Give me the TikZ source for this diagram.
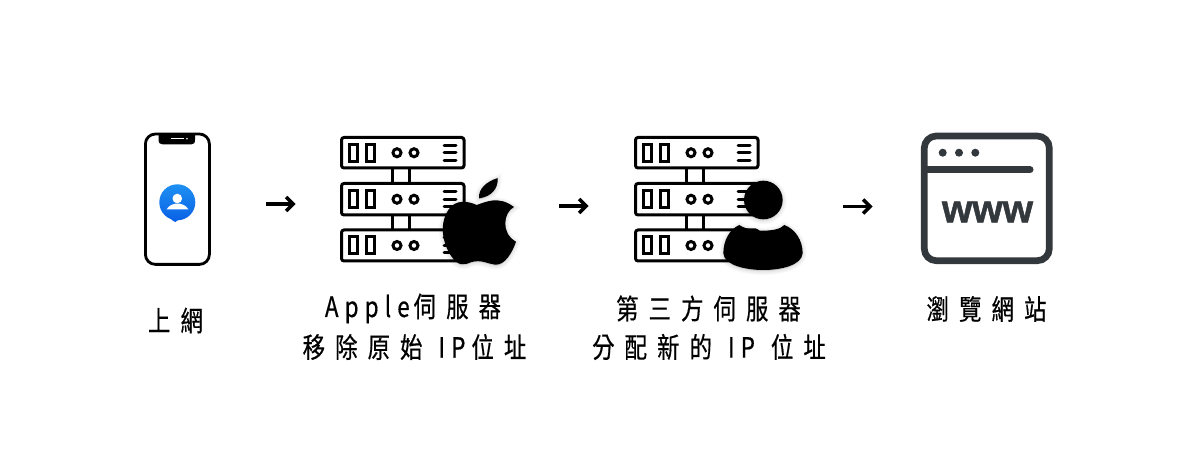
\documentclass[tikz,border=0pt]{standalone}
\usepackage{fontspec}
\usetikzlibrary{arrows.meta}
\newfontfamily\cjklabel[LetterSpace=36,FakeStretch=0.8,FakeBold=0.5]{Noto Sans CJK TC}
\newfontfamily\latlabel[LetterSpace=22,FakeStretch=0.8,FakeBold=0.5]{Noto Sans CJK TC}
\newfontfamily\wwwfont[BoldFeatures={FakeBold=1.2}]{Liberation Sans}
\definecolor{browsergrey}{HTML}{33383C}
\definecolor{blueA}{HTML}{1E90F2}
\definecolor{blueB}{HTML}{0A62E6}
\tikzset{
  flowarrow/.style={line width=3.2pt,-{Straight Barb[length=7pt,width=14pt,line width=3.5pt]}},
  labeltext/.style={font=\cjklabel\fontsize{28}{39}\selectfont,align=center,inner sep=0pt,text=black},
  iconanchor/.style={inner sep=0pt,minimum size=0pt},
  rack/.style={draw=black,line width=3pt,rounded corners=2.5pt},
  rackline/.style={draw=black,line width=3pt},
  serverpic/.pic={
    \foreach \ya/\yb in {137.5/168,183.5/215,230/261}{
      \draw[rack] (341.5,\ya) rectangle (464,\yb);
      \pgfmathsetmacro{\ym}{(\ya+\yb)/2}
      \draw[line width=3pt] (349.5,\ym-8.5) rectangle (357,\ym+8.5);
      \draw[line width=3pt] (366.5,\ym-8.5) rectangle (374,\ym+8.5);
      \draw[line width=3pt] (397,\ym) circle (4);
      \draw[line width=3pt] (414,\ym) circle (4);
      \foreach \dy in {-7.5,0,7.5}{\draw[line width=3pt,line cap=round] (444,\ym+\dy) -- (456,\ym+\dy);}
    }
    \foreach \xx in {392.5,409.5}{
      \draw[rackline] (\xx,168) -- (\xx,183.5);
      \draw[rackline] (\xx,215) -- (\xx,230);
    }
  }
}
\newcommand{\applepath}{
  (440,240) .. controls (465,232) and (505,210) .. (552,246)
  .. controls (520,262) and (512,325) .. (558,350)
  .. controls (548,380) and (525,422) .. (495,419)
  .. controls (475,417) and (455,403) .. (425,411)
  .. controls (405,420) and (385,425) .. (365,395)
  .. controls (340,360) and (325,300) .. (355,255)
  .. controls (375,222) and (415,228) .. (440,240) -- cycle
  (447,220) .. controls (445,190) and (470,170) .. (503,159)
  .. controls (505,190) and (485,215) .. (447,220) -- cycle
}
\newcommand{\personpath}{
  (415,225) circle (58)
  (343,300) .. controls (370,320) and (455,325) .. (478,300)
  .. controls (510,312) and (533,345) .. (533,385)
  .. controls (530,420) and (470,435) .. (415,435)
  .. controls (360,435) and (298,420) .. (295,385)
  .. controls (295,345) and (315,312) .. (343,300) -- cycle
}
\begin{document}
\begin{tikzpicture}[x=1pt,y=-1pt]
\useasboundingbox (0,0) rectangle (1200,470);
\fill[white] (0,0) rectangle (1200,470);

% phone
\node[iconanchor] (phone) at (177.3,199) {};
\draw[black,line width=2.8pt,rounded corners=10pt] (145.4,134) rectangle (209.4,264.4);
\fill[black] (158.5,134) -- (158.5,139.5) .. controls (158.5,143) and (160,144.5) .. (163,144.5) -- (191,144.5) .. controls (194,144.5) and (195,143) .. (195,139.5) -- (195,134) -- cycle;
\draw[white,line width=0.8pt] (171,138.7) -- (184,138.7);
\fill[white] (187,138.7) circle (0.9);
\shade[top color=blueA,bottom color=blueB] (177.3,202.3) circle (18);
\fill[blueB] (170,218) -- (178,220) -- (175.5,222) .. controls (174,222) and (172,220) .. (170,218) -- cycle;
\fill[white] (177.3,198.5) circle (4.8);
\fill[white] (166.5,209.5) .. controls (169,205) and (174,203.5) .. (177.3,203.5) .. controls (181,203.5) and (186,205) .. (188.5,209.5) -- cycle;

% arrows
\coordinate (a1s) at (266,204);
\coordinate (a1e) at (295.5,204);
\coordinate (a2s) at (559,206);
\coordinate (a2e) at (588.5,206);
\coordinate (a3s) at (843,206.5);
\coordinate (a3e) at (872.5,206.5);
\draw[flowarrow] (a1s) -- (a1e);
\draw[flowarrow] (a2s) -- (a2e);
\draw[flowarrow] (a3s) -- (a3e);

% server with apple
\node[iconanchor] (serverA) at (402,199) {};
\pic at (0,0) {serverpic};
\begin{scope}[shift={(330,125)},scale=0.33333]
  \foreach \w in {24,18,12,6}{
    \fill[black,opacity=0.025,draw=black,line width=\w pt*0.33333,yshift=-3pt] \applepath;
  }
  \fill[black] \applepath;
\end{scope}

% server with person
\node[iconanchor] (serverB) at (696,199) {};
\pic at (294,0) {serverpic};
\begin{scope}[shift={(625,125)},scale=0.33333]
  \foreach \w in {24,18,12,6}{
    \fill[black,opacity=0.025,draw=black,line width=\w pt*0.33333,yshift=-3pt] \personpath;
  }
  \fill[black] \personpath;
\end{scope}

% browser
\node[iconanchor] (browser) at (987,198) {};
\draw[browsergrey,line width=6.7pt,rounded corners=12pt] (924.3,136) rectangle (1049.3,260.7);
\draw[browsergrey,line width=7pt,line cap=round] (927,169.7) -- (1030,169.7);
\foreach \xx in {942.7,959,975.3}{\fill[browsergrey] (\xx,152.7) circle (4);}
\node[inner sep=0pt,text=browsergrey,font=\wwwfont\bfseries\fontsize{39}{39}\selectfont] (www) at (987.5,212) {www};

% labels
\node[labeltext] (lab1) at (175.5,320.5) {上網};
\node[labeltext] (lab2a) at (413,308.5) {{\latlabel Apple}\hspace{4pt}伺服器};
\node[labeltext] (lab2b) at (414.5,347) {移除原始\hspace{16pt}{\latlabel IP}\hspace{6pt}位址};
\node[labeltext] (lab3a) at (708.5,308.5) {第三方伺服器};
\node[labeltext] (lab3b) at (709,347) {分配新的\hspace{16pt}{\latlabel IP}\hspace{16pt}位址};
\node[labeltext] (lab4) at (986.5,309) {瀏覽網站};
\end{tikzpicture}
\end{document}
